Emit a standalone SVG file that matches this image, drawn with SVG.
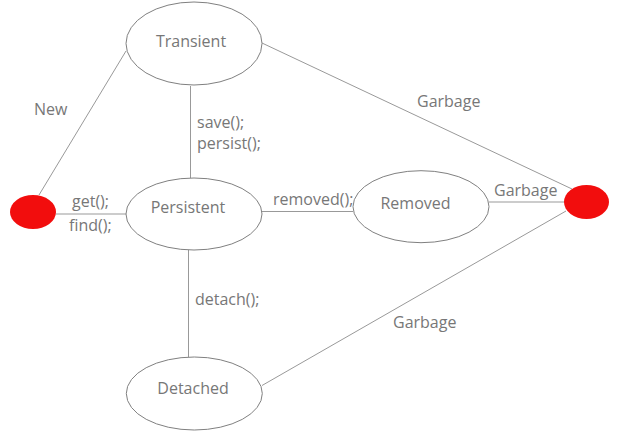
<svg xmlns="http://www.w3.org/2000/svg" width="624" height="433" viewBox="0 0 624 433">
<style>
.st{fill:#fff;stroke:#808080;stroke-width:1}
.dot{fill:#f20d0d;stroke:none}
.ln{stroke:#999;stroke-width:1;fill:none}
text{font-family:"Open Sans","Noto Sans","Liberation Sans",sans-serif;font-size:16px;fill:#777}
.c{text-anchor:middle}
</style>
<rect width="624" height="433" fill="#fff"/>
<g id="connectors">
<line class="ln" x1="39" y1="195" x2="126" y2="51"/>
<line class="ln" x1="190.5" y1="86" x2="190.5" y2="178"/>
<line class="ln" x1="56" y1="214" x2="126" y2="214"/>
<line class="ln" x1="262" y1="211.5" x2="353" y2="211.5"/>
<line class="ln" x1="489" y1="202" x2="564" y2="202"/>
<line class="ln" x1="262" y1="43" x2="572" y2="189"/>
<line class="ln" x1="262" y1="385.5" x2="566" y2="211"/>
<line class="ln" x1="188.5" y1="250" x2="188.5" y2="357"/>
<text x="34" y="115">New</text>
<text x="197" y="128">save();</text>
<text x="197" y="149">persist();</text>
<text x="72" y="207">get();</text>
<text x="69" y="231">find();</text>
<text x="273" y="205">removed();</text>
<text x="494" y="196">Garbage</text>
<text x="417" y="107">Garbage</text>
<text x="393" y="328">Garbage</text>
<text x="195" y="305">detach();</text>
</g>
<g id="transient"><ellipse class="st" cx="194" cy="43.5" rx="68" ry="41.5"/><text class="c" x="191" y="47">Transient</text></g>
<g id="persistent"><ellipse class="st" cx="194" cy="214" rx="68" ry="36"/><text class="c" x="188" y="213">Persistent</text></g>
<g id="removed"><ellipse class="st" cx="421" cy="206.7" rx="68" ry="36"/><text class="c" x="415.5" y="209">Removed</text></g>
<g id="detached"><ellipse class="st" cx="194.3" cy="393.5" rx="68" ry="36.5"/><text class="c" x="193" y="394">Detached</text></g>
<g id="start"><ellipse class="dot" cx="33" cy="212" rx="23" ry="17"/></g>
<g id="end"><ellipse class="dot" cx="586.5" cy="202" rx="22.5" ry="17"/></g>
</svg>
